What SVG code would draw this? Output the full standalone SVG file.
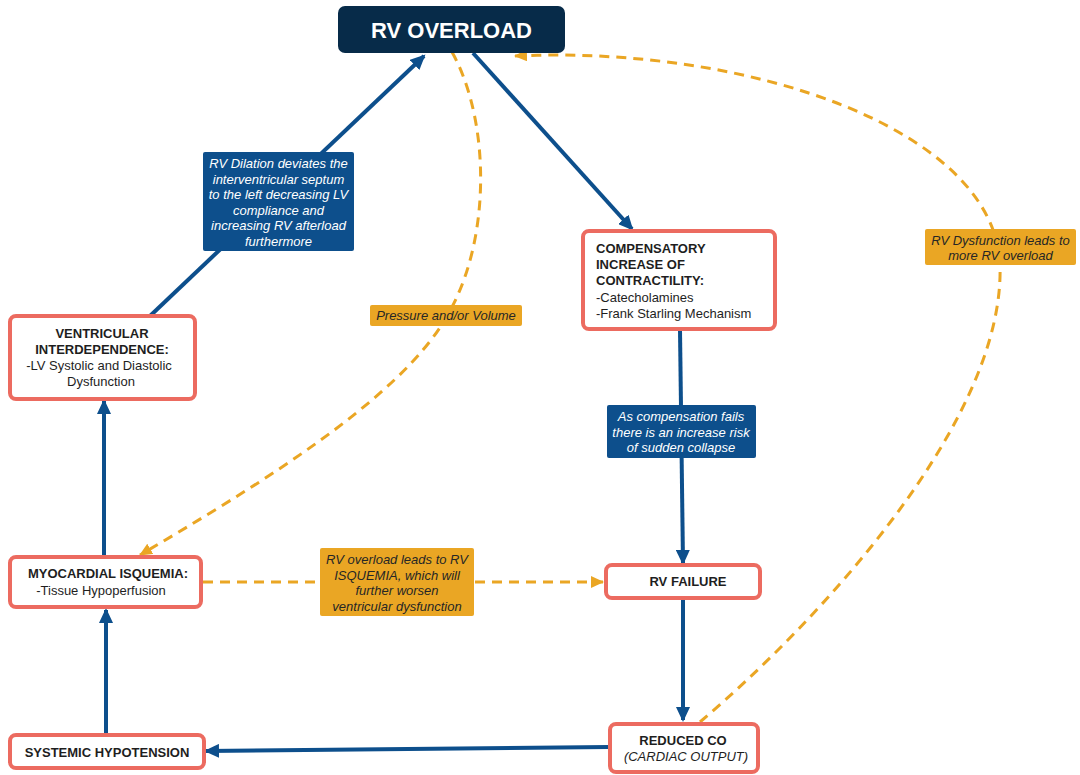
<svg xmlns="http://www.w3.org/2000/svg" width="1080" height="775" viewBox="0 0 1080 775">
  <defs>
    <style>
      .node { fill: #ffffff; stroke: #ec6b60; stroke-width: 4; }
      .ntxt { font-family: "Liberation Sans", Arial, sans-serif; font-size: 13px; fill: #1e1e1e; }
      .b { font-weight: bold; }
      .blue { stroke: #0d4f8c; stroke-width: 4; fill: none; }
      .dash { stroke: #eaa624; stroke-width: 3; fill: none; stroke-dasharray: 10 7; }
      .lblB { fill: #0d4f8c; }
      .lblO { fill: #eaa624; }
      .ltxtB { font-family: "Liberation Sans", Arial, sans-serif; font-size: 13px; font-style: italic; fill: #ffffff; text-anchor: middle; }
      .ltxtO { font-family: "Liberation Sans", Arial, sans-serif; font-size: 13px; font-style: italic; fill: #262626; text-anchor: middle; }
    </style>
    <marker id="arrB" markerUnits="userSpaceOnUse" markerWidth="16" markerHeight="14" refX="13" refY="7" orient="auto">
      <path d="M0,0 L15,7 L0,14 z" fill="#0d4f8c"/>
    </marker>
    <marker id="arrO" markerUnits="userSpaceOnUse" markerWidth="14" markerHeight="12" refX="12" refY="6" orient="auto">
      <path d="M0,0 L13,6 L0,12 z" fill="#eaa624"/>
    </marker>
  </defs>

  <rect width="1080" height="775" fill="#ffffff"/>

  <!-- connectors -->
  <g id="connectors">
    <line class="blue" x1="150" y1="316" x2="424" y2="56" marker-end="url(#arrB)"/>
    <line class="blue" x1="473" y1="53" x2="632" y2="229" marker-end="url(#arrB)"/>
    <line class="blue" x1="680" y1="330" x2="683" y2="563" marker-end="url(#arrB)"/>
    <line class="blue" x1="683" y1="600" x2="683" y2="720" marker-end="url(#arrB)"/>
    <line class="blue" x1="609" y1="747" x2="206" y2="751" marker-end="url(#arrB)"/>
    <line class="blue" x1="106" y1="733" x2="106" y2="610" marker-end="url(#arrB)"/>
    <line class="blue" x1="104" y1="556" x2="104" y2="401" marker-end="url(#arrB)"/>
    <path class="dash" d="M452,52 C490,120 492,240 447,316 C400,400 250,490 140,555" marker-end="url(#arrO)"/>
    <line class="dash" x1="203" y1="582" x2="603" y2="582" marker-end="url(#arrO)"/>
    <path class="dash" d="M700,722 C820,620 1005,420 1000,265 C995,130 750,45 515,56" marker-end="url(#arrO)"/>
  </g>

  <!-- labels on connectors -->
  <g id="label-dilation">
    <rect class="lblB" x="203" y="152" width="151" height="99" rx="2"/>
    <text class="ltxtB" x="278.5" y="168">RV Dilation deviates the</text>
    <text class="ltxtB" x="278.5" y="183.5">interventricular septum</text>
    <text class="ltxtB" x="278.5" y="199">to the left decreasing LV</text>
    <text class="ltxtB" x="278.5" y="214.5">compliance and</text>
    <text class="ltxtB" x="278.5" y="230">increasing RV afterload</text>
    <text class="ltxtB" x="278.5" y="245.5">furthermore</text>
  </g>
  <g id="label-compensation">
    <rect class="lblB" x="607" y="405" width="149" height="53" rx="2"/>
    <text class="ltxtB" x="681" y="421">As compensation fails</text>
    <text class="ltxtB" x="681" y="436.5">there is an increase risk</text>
    <text class="ltxtB" x="681" y="452">of sudden collapse</text>
  </g>
  <g id="label-pressure">
    <rect class="lblO" x="370" y="305" width="152" height="21" rx="2"/>
    <text class="ltxtO" x="446" y="320">Pressure and/or Volume</text>
  </g>
  <g id="label-isquemia">
    <rect class="lblO" x="320" y="548" width="154" height="68" rx="2"/>
    <text class="ltxtO" x="397" y="564">RV overload leads to RV</text>
    <text class="ltxtO" x="397" y="579.5">ISQUEMIA, which will</text>
    <text class="ltxtO" x="397" y="595">further worsen</text>
    <text class="ltxtO" x="397" y="610.5">ventricular dysfunction</text>
  </g>
  <g id="label-dysfunction">
    <rect class="lblO" x="925" y="229" width="151" height="36" rx="2"/>
    <text class="ltxtO" x="1000.5" y="245">RV Dysfunction leads to</text>
    <text class="ltxtO" x="1000.5" y="260">more RV overload</text>
  </g>

  <!-- nodes -->
  <g id="rv-overload">
    <rect x="338" y="6" width="227" height="47" rx="7" fill="#072b49"/>
    <text x="451.5" y="37.5" text-anchor="middle" font-family="Liberation Sans, Arial, sans-serif" font-size="22" font-weight="bold" fill="#ffffff">RV OVERLOAD</text>
  </g>
  <g id="ventricular-interdependence">
    <rect class="node" x="10" y="316" width="185" height="83" rx="6"/>
    <text class="ntxt b" x="102" y="338" text-anchor="middle">VENTRICULAR</text>
    <text class="ntxt b" x="102" y="354" text-anchor="middle">INTERDEPENDENCE:</text>
    <text class="ntxt" x="99" y="370" text-anchor="middle">-LV Systolic and Diastolic</text>
    <text class="ntxt" x="101" y="386" text-anchor="middle">Dysfunction</text>
  </g>
  <g id="compensatory">
    <rect class="node" x="583" y="231" width="192" height="98" rx="6"/>
    <text class="ntxt b" x="596" y="253">COMPENSATORY</text>
    <text class="ntxt b" x="596" y="269">INCREASE OF</text>
    <text class="ntxt b" x="596" y="285">CONTRACTILITY:</text>
    <text class="ntxt" x="596" y="302">-Catecholamines</text>
    <text class="ntxt" x="596" y="318">-Frank Starling Mechanism</text>
  </g>
  <g id="myocardial-isquemia">
    <rect class="node" x="10" y="557" width="191" height="50" rx="6"/>
    <text class="ntxt b" x="108" y="578" text-anchor="middle">MYOCARDIAL ISQUEMIA:</text>
    <text class="ntxt" x="101" y="595" text-anchor="middle">-Tissue Hypoperfusion</text>
  </g>
  <g id="rv-failure">
    <rect class="node" x="606" y="565" width="154" height="33" rx="6"/>
    <text class="ntxt b" x="688" y="586" text-anchor="middle" font-size="14">RV FAILURE</text>
  </g>
  <g id="reduced-co">
    <rect class="node" x="610" y="724" width="148" height="48" rx="6"/>
    <text class="ntxt b" x="683" y="745" text-anchor="middle">REDUCED CO</text>
    <text class="ntxt" x="686" y="761" text-anchor="middle" font-style="italic">(CARDIAC OUTPUT)</text>
  </g>
  <g id="systemic-hypotension">
    <rect class="node" x="10" y="735" width="194" height="33" rx="6"/>
    <text class="ntxt b" x="107" y="757" text-anchor="middle">SYSTEMIC HYPOTENSION</text>
  </g>
</svg>
